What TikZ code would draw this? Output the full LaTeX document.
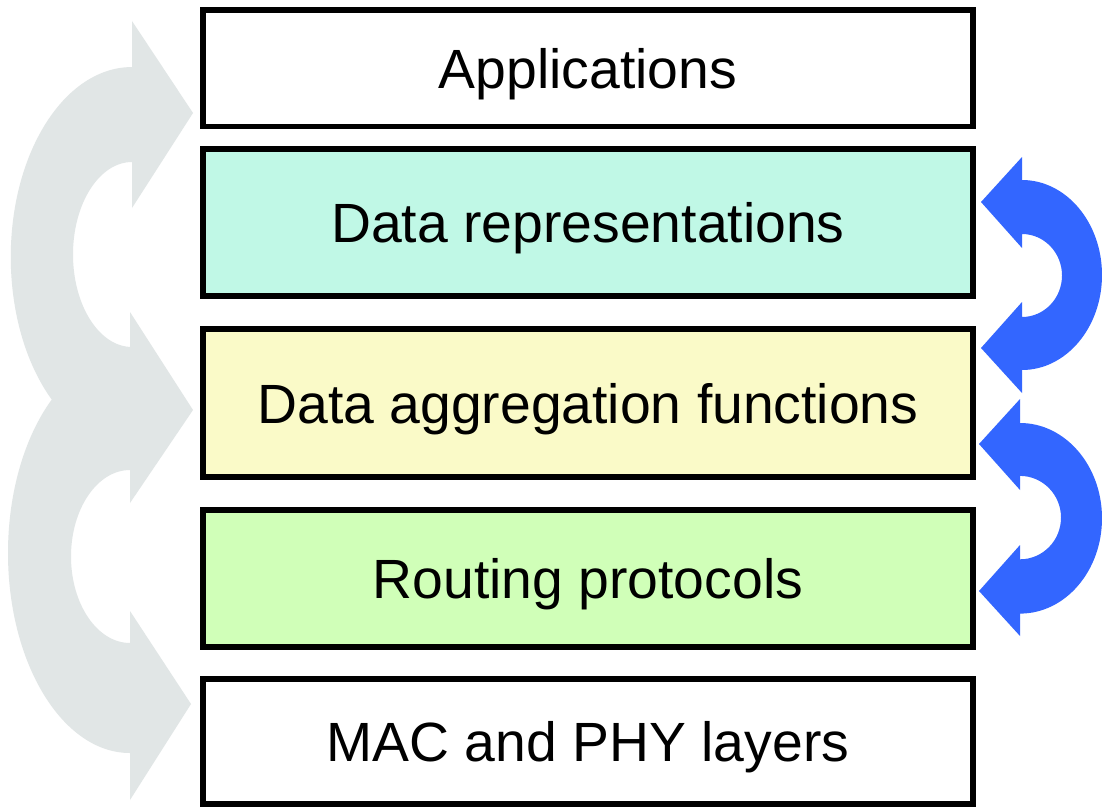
\documentclass[tikz,border=0pt]{standalone}
\usepackage{fontspec}
\setmainfont{Liberation Sans}
\definecolor{grayarrow}{RGB}{225,230,230}
\definecolor{bluearrow}{RGB}{51,102,255}
\definecolor{boxcyan}{RGB}{192,248,230}
\definecolor{boxyellow}{RGB}{250,250,200}
\definecolor{boxgreen}{RGB}{208,255,184}
\begin{document}
\begin{tikzpicture}[x=1pt,y=-1pt,
  layerbox/.style={draw=black, line width=5.5pt, minimum width=770pt, inner sep=0pt,
    text height=40pt, text depth=0pt, font=\fontsize{55.3pt}{60pt}\selectfont},
  grayshape/.style={fill=grayarrow},
  blueshape/.style={fill=bluearrow}]
\useasboundingbox (0,0) rectangle (1102,808);
\fill[white] (0,0) rectangle (1102,808);

% gray curved arrows on the left
\fill[grayshape] (193,113) -- (132,208) -- (132,162)
  arc[start angle=270, end angle=90, x radius=59, y radius=92.5]
  -- (130,347) -- (130,312) -- (193,410) -- (130,503) -- (130,470)
  arc[start angle=270, end angle=90, x radius=59, y radius=86.5]
  -- (130,611) -- (191,704) -- (130,800) -- (130,753)
  arc[start angle=90, end angle=230.1, x radius=122, y radius=200]
  arc[start angle=131.4, end angle=270, x radius=121, y radius=190]
  -- (132,67) -- (132,21) -- cycle;

% blue curved arrows on the right
\fill[blueshape] (981,202) -- (1022,157) -- (1022,180)
  arc[start angle=-90, end angle=90, x radius=80, y radius=95]
  -- (1022,393) -- (981,348) -- (1022,302) -- (1022,317)
  arc[start angle=90, end angle=-90, x radius=40, y radius=41.5]
  -- (1022,248) -- cycle;
\fill[blueshape] (979,444) -- (1020,399) -- (1020,423)
  arc[start angle=-90, end angle=90, x radius=82, y radius=95.3]
  -- (1020,636) -- (979,591) -- (1020,545) -- (1020,559.3)
  arc[start angle=90, end angle=-90, x radius=41, y radius=41.7]
  -- (1020,490) -- cycle;

% layer boxes
\node[layerbox, fill=white, minimum height=116.5pt] (apps) at (588,68.25) {Applications};
\node[layerbox, fill=boxcyan, minimum height=147pt] (repr) at (588,222.5) {Data representations};
\node[layerbox, fill=boxyellow, minimum height=148pt] (aggr) at (588,403) {Data aggregation functions};
\node[layerbox, fill=boxgreen, minimum height=137pt] (rout) at (588,578.5) {Routing protocols};
\node[layerbox, fill=white, minimum height=125pt] (mac) at (588,741.5) {MAC and PHY layers};
\end{tikzpicture}
\end{document}
